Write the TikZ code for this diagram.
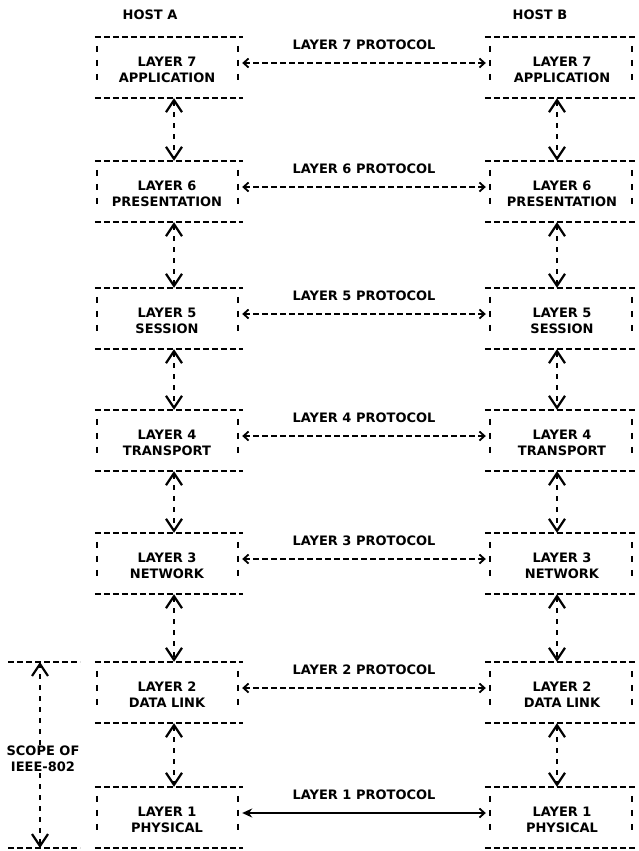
\documentclass[tikz,border=0pt]{standalone}
\usepackage{fontspec}
\setmainfont{DejaVu Sans}
\usetikzlibrary{arrows.meta}

\tikzset{
  lbl/.style={font=\bfseries\fontsize{13}{16}\selectfont, inner sep=1pt, align=center},
  boxL/.style={minimum width=148pt, minimum height=61pt, inner sep=0pt},
  boxR/.style={minimum width=152pt, minimum height=61pt, inner sep=0pt},
  hline/.style={line width=1.8pt, dash pattern=on 6pt off 3pt},
  vside/.style={line width=1.8pt, dash pattern=on 6pt off 8pt},
  shaft/.style={line width=1.7pt, dash pattern=on 5pt off 6pt},
  chev/.tip={Straight Barb[length=12pt, width=16pt, line width=2.2pt]},
  smallchev/.tip={Straight Barb[length=5pt, width=9pt, line width=1.8pt]},
  updown/.style={shaft, {chev}-{chev}},
  proto/.style={line width=1.7pt, dash pattern=on 6pt off 3pt, {smallchev}-{smallchev}},
  phys/.style={line width=2.8pt, {Stealth[length=10pt, width=9pt]}-{smallchev}}
}

% dashed outline of one layer box: full top and bottom rules, broken sides
\newcommand\layeroutline[3]{% #1 node, #2 left side offset, #3 right side offset
  \draw[hline] (#1.north west) -- (#1.north east);
  \draw[hline] (#1.south west) -- (#1.south east);
  \draw[vside] ([xshift=#2,yshift=-9pt]#1.north west) -- ([xshift=#2,yshift=17pt]#1.south west);
  \draw[vside] ([xshift=#3,yshift=-9pt]#1.north east) -- ([xshift=#3,yshift=17pt]#1.south east);
}

\begin{document}
\begin{tikzpicture}[x=1pt, y=-1pt]
\useasboundingbox (0,0) rectangle (639,851);

% host titles
\node[lbl] (hostA) at (150,15) {HOST A};
\node[lbl] (hostB) at (540,15) {HOST B};

% the seven layers of both hosts
\foreach \n/\t/\name in {7/37/APPLICATION, 6/161/PRESENTATION, 5/288/SESSION,
                         4/410/TRANSPORT, 3/533/NETWORK, 2/662/DATA LINK, 1/787/PHYSICAL} {
  \node[boxL] (A\n) at (169,\t+30.5) {};
  \node[boxR] (B\n) at (561,\t+30.5) {};
  \node[lbl] (TA\n) at (167,\t+33) {LAYER \n\\\name};
  \node[lbl] (TB\n) at (562,\t+33) {LAYER \n\\\name};
  \layeroutline{A\n}{2pt}{-5pt}
  \layeroutline{B\n}{5pt}{-5pt}
  \node[lbl] (P\n) at (364,\t+8) {LAYER \n\ PROTOCOL};
}

% peer protocols (virtual), layers 7 to 2
\foreach \n in {7,6,5,4,3,2} {
  \draw[proto] ([xshift=-1pt,yshift=4.5pt]A\n.east) -- ([xshift=1pt,yshift=4.5pt]B\n.west);
}
% physical link
\draw[phys] ([xshift=-1pt,yshift=4.5pt]A1.east) -- ([xshift=1pt,yshift=4.5pt]B1.west);

% interfaces between adjacent layers
\foreach \u/\d in {7/6, 6/5, 5/4, 4/3, 3/2, 2/1} {
  \draw[updown] ([xshift=5pt]A\u.south) -- ([xshift=5pt]A\d.north);
  \draw[updown] ([xshift=-4pt]B\u.south) -- ([xshift=-4pt]B\d.north);
}

% scope of IEEE-802
\coordinate (st) at (40,662);
\coordinate (sb) at (40,848);
\draw[hline] (8,662) -- (80,662);
\draw[hline] (8,848) -- (80,848);
\node[lbl] (scope) at (43,759) {SCOPE OF\\IEEE-802};
\draw[shaft, -{chev}] (scope.north -| st) -- (st);
\draw[shaft, -{chev}] (scope.south -| sb) -- (sb);
\end{tikzpicture}
\end{document}
